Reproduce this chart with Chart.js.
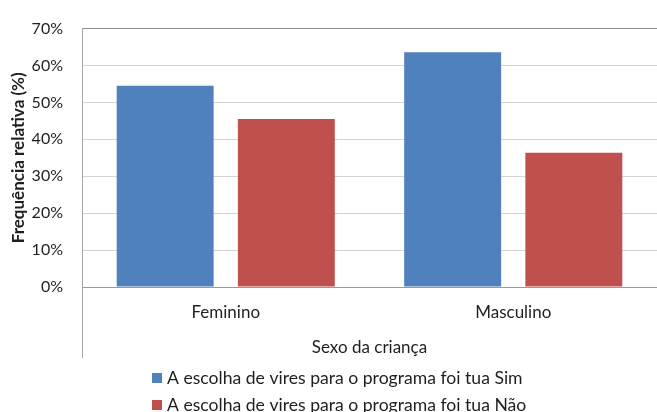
<!DOCTYPE html>
<html>
<head>
<meta charset="utf-8">
<script src="https://cdn.jsdelivr.net/npm/chart.js@4"></script>
<style>
  html, body { margin: 0; padding: 0; background: #fff; }
  canvas { display: block; }
</style>
</head>
<body>
<canvas id="chart" width="657" height="412"></canvas>
<script>
const categories = ['Feminino', 'Masculino'];
const seriesLabels = [
    'A escolha de vires para o programa foi tua Sim',
    'A escolha de vires para o programa foi tua Não'
];
const simValues = [54.5, 63.6];
const naoValues = [45.5, 36.4];
const yMax = 70;
const yStep = 10;
const xTitle = 'Sexo da criança';
const yTitle = 'Frequência relativa (%)';

const FONT_FAMILY = 'Lato, "Liberation Sans", sans-serif';
const TEXT_COLOR = '#1f1f1f';

// left axis line runs on below the plot, down past the axis title
const axisExtension = {
    id: 'axisExtension',
    afterDraw(chart) {
        const ctx = chart.ctx;
        const x = Math.round(chart.chartArea.left) + 0.5;
        ctx.save();
        ctx.strokeStyle = '#a6a6a6';
        ctx.lineWidth = 1;
        ctx.beginPath();
        ctx.moveTo(x, chart.chartArea.bottom);
        ctx.lineTo(x, 358);
        ctx.stroke();
        ctx.restore();
    }
};

// two-row legend under the axis title
const stackedLegend = {
    id: 'stackedLegend',
    afterDraw(chart) {
        const ctx = chart.ctx;
        ctx.save();
        ctx.font = '17.6px ' + FONT_FAMILY;
        ctx.textBaseline = 'middle';
        ctx.textAlign = 'left';
        chart.data.datasets.forEach((ds, i) => {
            const y = 378 + i * 27;
            ctx.fillStyle = ds.backgroundColor;
            ctx.fillRect(152, y - 5, 10, 10);
            ctx.fillStyle = TEXT_COLOR;
            ctx.fillText(ds.label, 167, y);
        });
        ctx.restore();
    }
};

new Chart(document.getElementById('chart'), {
    type: 'bar',
    data: {
        labels: categories,
        datasets: [
            { label: seriesLabels[0], data: simValues, backgroundColor: '#4f81bd' },
            { label: seriesLabels[1], data: naoValues, backgroundColor: '#c0504d' }
        ]
    },
    options: {
        responsive: false,
        animation: false,
        layout: { padding: { top: 24, right: 0, bottom: 0, left: 0 } },
        datasets: {
            bar: { categoryPercentage: 0.843, barPercentage: 0.8 }
        },
        scales: {
            x: {
                afterFit(scale) { scale.height = 125; },
                grid: { display: false, drawTicks: false },
                border: { display: true, color: '#9a9a9a' },
                ticks: {
                    color: TEXT_COLOR,
                    padding: 15,
                    font: { family: FONT_FAMILY, size: 17 }
                },
                title: {
                    display: true,
                    text: xTitle,
                    color: TEXT_COLOR,
                    font: { family: FONT_FAMILY, size: 17 },
                    padding: { top: 0, bottom: 54 }
                }
            },
            y: {
                min: 0,
                max: yMax,
                afterFit(scale) { scale.width = 82; },
                grid: {
                    drawTicks: false,
                    color: ctx => ctx.tick && ctx.tick.value === yMax ? '#8c8c8c' : '#d4d4d4'
                },
                border: { display: true, color: '#a6a6a6' },
                ticks: {
                    stepSize: yStep,
                    color: TEXT_COLOR,
                    padding: 19,
                    font: { family: FONT_FAMILY, size: 16 },
                    callback: v => v + '%'
                },
                title: {
                    display: true,
                    text: yTitle,
                    color: TEXT_COLOR,
                    font: { family: FONT_FAMILY, size: 17, weight: 'bold' },
                    padding: { top: 8, bottom: 0 }
                }
            }
        },
        plugins: {
            legend: { display: false },
            tooltip: { enabled: false }
        }
    },
    plugins: [axisExtension, stackedLegend]
});
</script>
</body>
</html>
